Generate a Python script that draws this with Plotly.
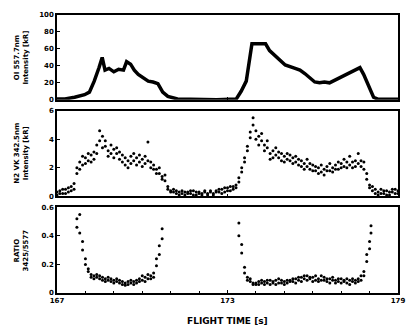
import plotly.graph_objects as go
from plotly.subplots import make_subplots

# OI 557.7nm intensity [kR] (thick trace)
oi_t = [167.0, 167.28, 167.62, 167.97, 168.14, 168.31, 168.48, 168.59, 168.69, 168.83,
        169.0, 169.17, 169.34, 169.45, 169.59, 169.72, 169.86, 170.03, 170.21, 170.38,
        170.55, 170.72, 170.9, 171.24, 171.93, 172.62, 173.31, 173.48, 173.66, 173.76,
        173.86, 174.07, 174.34, 174.48, 174.69, 174.86, 175.03, 175.38, 175.55, 175.72,
        175.9, 176.07, 176.24, 176.41, 176.59, 176.76, 177.1, 177.45, 177.66, 177.79,
        177.97, 178.14, 178.31, 179.0]
oi_val = [1, 1, 3, 6, 9, 22, 38, 50, 35, 37,
          33, 36, 35, 45, 42, 35, 30, 26, 22, 21,
          19, 9, 4, 1, 0, 0, 1, 10, 22, 45,
          66, 66, 66, 58, 51, 46, 41, 37, 35, 31,
          26, 21, 20, 21, 20, 23, 28, 34, 38, 30,
          15, 3, 0.5, 0.5]

# N2 VK intensity [kR] (dots), two readings per sample time
n2_t = [167.0, 167.1, 167.2, 167.3, 167.4, 167.5, 167.6, 167.7, 167.8, 167.9,
        168.0, 168.1, 168.2, 168.3, 168.4, 168.5, 168.6, 168.7, 168.8, 168.9,
        169.0, 169.1, 169.2, 169.3, 169.4, 169.5, 169.6, 169.7, 169.8, 169.9,
        170.0, 170.1, 170.2, 170.3, 170.4, 170.5, 170.6, 170.7, 170.8, 170.9,
        171.0, 171.1, 171.2, 171.3, 171.4, 171.5, 171.6, 171.7, 171.8, 171.9,
        172.0, 172.1, 172.2, 172.3, 172.4, 172.5, 172.6, 172.7, 172.8, 172.9,
        173.0, 173.1, 173.2, 173.3, 173.4, 173.5, 173.6, 173.7, 173.8, 173.9,
        174.0, 174.1, 174.2, 174.3, 174.4, 174.5, 174.6, 174.7, 174.8, 174.9,
        175.0, 175.1, 175.2, 175.3, 175.4, 175.5, 175.6, 175.7, 175.8, 175.9,
        176.0, 176.1, 176.2, 176.3, 176.4, 176.5, 176.6, 176.7, 176.8, 176.9,
        177.0, 177.1, 177.2, 177.3, 177.4, 177.5, 177.6, 177.7, 177.8, 177.9,
        178.0, 178.1, 178.2, 178.3, 178.4, 178.5, 178.6, 178.7, 178.8, 178.9,
        179.0]
n2_a = [0.3, 0.4, 0.2, 0.5, 0.3, 0.7, 0.9, 2.0, 2.4, 2.2,
        2.7, 2.5, 2.9, 3.1, 3.6, 4.6, 4.2, 3.5, 3.2, 3.6,
        3.3, 3.0, 2.6, 2.4, 2.2, 2.5, 2.8, 3.0, 2.7, 2.4,
        2.6, 2.3, 2.5, 2.4, 2.2, 1.9, 1.6, 1.4, 1.1, 0.7,
        0.4, 0.3, 0.2, 0.3, 0.2, 0.1, 0.3, 0.2, 0.4, 0.1,
        0.3, 0.2, 0.4, 0.1, 0.3, 0.2, 0.4, 0.3, 0.5, 0.3,
        0.6, 0.4, 0.7, 0.8, 1.3, 2.0, 2.7, 3.5, 4.5, 5.5,
        4.6, 4.2, 3.9, 3.6, 3.4, 3.0, 3.2, 2.9, 2.7, 3.0,
        2.8, 2.6, 2.9, 2.7, 2.4, 2.2, 2.5, 2.3, 2.1, 1.9,
        2.2, 1.8, 2.0, 1.7, 1.9, 2.1, 1.8, 2.0, 2.2, 1.9,
        2.3, 2.1, 2.4, 2.2, 2.0, 2.5, 2.3, 2.1, 2.4, 1.6,
        0.8, 0.4, 0.2, 0.3, 0.5, 0.2, 0.4, 0.1, 0.3, 0.5,
        0.2]
n2_b = [0.1, 0.2, 0.5, 0.2, 0.6, 0.4, 0.5, 1.6, 1.9, 2.8,
        2.3, 3.0, 2.4, 2.6, 3.0, 3.9, 3.4, 3.9, 2.8, 3.0,
        2.7, 3.4, 3.1, 2.9, 2.7, 2.0, 2.3, 2.5, 2.2, 2.9,
        2.1, 2.8, 3.8, 2.0, 1.9, 1.6, 2.0, 1.2, 1.5, 0.5,
        0.3, 0.5, 0.4, 0.1, 0.4, 0.3, 0.2, 0.4, 0.1, 0.3,
        0.2, 0.1, 0.3, 0.2, 0.4, 0.1, 0.3, 0.5, 0.2, 0.6,
        0.4, 0.7, 0.5, 0.6, 1.0, 1.7, 2.4, 3.2, 4.1, 5.0,
        4.0, 3.6, 4.4, 3.2, 3.9, 2.6, 2.7, 3.4, 3.1, 2.5,
        2.4, 3.0, 2.5, 2.3, 2.8, 2.6, 2.1, 1.9, 2.6, 2.3,
        1.8, 2.1, 1.6, 2.2, 1.5, 1.8, 2.3, 1.7, 1.9, 2.4,
        2.0, 2.6, 2.0, 2.8, 2.4, 2.1, 3.0, 2.5, 1.9, 1.2,
        0.6, 0.7, 0.5, 0.1, 0.2, 0.4, 0.1, 0.3, 0.5, 0.2,
        0.4]

# Ratio 3425/5577 (dots)
ratio_t = [167.7, 167.8, 167.9, 168.0, 168.1, 168.2, 168.3, 168.4, 168.5, 168.6,
           168.7, 168.8, 168.9, 169.0, 169.1, 169.2, 169.3, 169.4, 169.5, 169.6,
           169.7, 169.8, 169.9, 170.0, 170.1, 170.2, 170.3, 170.4, 170.5, 170.6,
           170.7,
           173.4, 173.5, 173.6, 173.7, 173.8, 173.9, 174.0, 174.1, 174.2, 174.3,
           174.4, 174.5, 174.6, 174.7, 174.8, 174.9, 175.0, 175.1, 175.2, 175.3,
           175.4, 175.5, 175.6, 175.7, 175.8, 175.9, 176.0, 176.1, 176.2, 176.3,
           176.4, 176.5, 176.6, 176.7, 176.8, 176.9, 177.0, 177.1, 177.2, 177.3,
           177.4, 177.5, 177.6, 177.7, 177.8, 177.9, 178.0, 178.05]
ratio_a = [0.52, 0.42, 0.30, 0.20, 0.15, 0.13, 0.12, 0.11, 0.10, 0.09,
           0.10, 0.11, 0.08, 0.09, 0.08, 0.07, 0.06, 0.055, 0.06, 0.07,
           0.08, 0.09, 0.10, 0.09, 0.11, 0.10, 0.12, 0.14, 0.19, 0.33,
           0.45,
           0.49, 0.28, 0.18, 0.11, 0.08, 0.07, 0.06, 0.06, 0.07, 0.08,
           0.07, 0.09, 0.08, 0.06, 0.07, 0.09, 0.08, 0.07, 0.09, 0.08,
           0.10, 0.09, 0.11, 0.10, 0.12, 0.10, 0.11, 0.09, 0.10, 0.12,
           0.09, 0.08, 0.10, 0.09, 0.07, 0.08, 0.10, 0.08, 0.07, 0.09,
           0.08, 0.07, 0.10, 0.09, 0.12, 0.22, 0.36, 0.47]
ratio_b = [0.46, 0.55, 0.36, 0.24, 0.17, 0.11, 0.10, 0.13, 0.12, 0.11,
           0.08, 0.09, 0.10, 0.07, 0.10, 0.09, 0.08, 0.07, 0.08, 0.09,
           0.06, 0.07, 0.08, 0.12, 0.08, 0.13, 0.10, 0.11, 0.24, 0.27,
           0.38,
           0.40, 0.34, 0.14, 0.09, 0.10, 0.06, 0.07, 0.08, 0.09, 0.06,
           0.09, 0.06, 0.07, 0.09, 0.10, 0.07, 0.06, 0.09, 0.08, 0.10,
           0.07, 0.11, 0.08, 0.12, 0.09, 0.11, 0.08, 0.12, 0.08, 0.09,
           0.11, 0.10, 0.07, 0.11, 0.09, 0.10, 0.07, 0.09, 0.10, 0.06,
           0.10, 0.09, 0.08, 0.12, 0.15, 0.27, 0.31, 0.42]

x_ticks = [167, 173, 179]
oi_ticks = [0, 20, 40, 60, 80, 100]
n2_ticks = [0, 2, 4, 6]
ratio_ticks = [0, 0.2, 0.4, 0.6]
ratio_labels = ["0", "0.2", "0.4", "0.6"]

font = dict(family="DejaVu Sans", size=7, color="black", weight="bold")

fig = make_subplots(rows=3, cols=1, shared_xaxes=True)

fig.add_trace(go.Scatter(x=oi_t, y=oi_val, mode="lines",
                         line=dict(color="black", width=3.5)), row=1, col=1)
for vals in (n2_a, n2_b):
    fig.add_trace(go.Scatter(x=n2_t, y=vals, mode="markers",
                             marker=dict(color="black", size=3)), row=2, col=1)
for vals in (ratio_a, ratio_b):
    fig.add_trace(go.Scatter(x=ratio_t, y=vals, mode="markers",
                             marker=dict(color="black", size=3)), row=3, col=1)

axis_style = dict(showline=True, mirror=True, linecolor="black", linewidth=1.5,
                  ticks="inside", ticklen=3, tickcolor="black", showgrid=False,
                  zeroline=False, tickfont=font)

fig.update_xaxes(range=[167, 179], tickvals=x_ticks, **axis_style)
fig.update_xaxes(showticklabels=False, row=1, col=1)
fig.update_xaxes(showticklabels=False, row=2, col=1)
fig.update_xaxes(minor=dict(ticks="inside", ticklen=2, dtick=1, tickcolor="black"),
                 row=3, col=1)

fig.update_yaxes(range=[0, 100], tickvals=oi_ticks, domain=[0.695, 1.0],
                 row=1, col=1, **axis_style)
fig.update_yaxes(range=[0, 6], tickvals=n2_ticks, domain=[0.3475, 0.656],
                 row=2, col=1, **axis_style)
fig.update_yaxes(range=[0, 0.6], tickvals=ratio_ticks, ticktext=ratio_labels,
                 domain=[0.0, 0.3085], row=3, col=1, **axis_style)

ylabels = [("OI 557.7nm<br>Intensity [kR]", 0.8475),
           ("N2 VK 342.5nm<br>Intensity [kR]", 0.502),
           ("RATIO<br>3425/5577", 0.154)]
for text, ypos in ylabels:
    fig.add_annotation(text=text, xref="paper", yref="paper", x=-0.105, y=ypos,
                       textangle=-90, showarrow=False, font=font,
                       xanchor="center", yanchor="middle")

fig.add_annotation(text="FLIGHT TIME [s]", xref="paper", yref="paper", x=0.5,
                   y=-0.1, showarrow=False, xanchor="center", yanchor="middle",
                   font=dict(family="DejaVu Sans", size=9, color="black", weight="bold"))

fig.update_layout(width=416, height=332, showlegend=False,
                  margin=dict(l=57, r=11, t=11, b=39),
                  paper_bgcolor="white", plot_bgcolor="white")

# drop the browser's default page margin so the figure sits at the window corner
fig.write_html("out.html", config={"displayModeBar": False},
               post_script="document.body.style.margin='0';")
